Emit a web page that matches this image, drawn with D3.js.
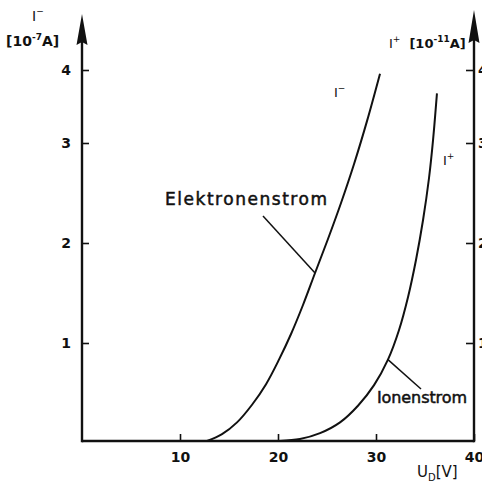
<!DOCTYPE html>
<html>
<head>
<meta charset="utf-8">
<script src="https://cdn.jsdelivr.net/npm/d3@7/dist/d3.min.js"></script>
<style>
  html, body { margin: 0; padding: 0; background: #fff; }
  svg { display: block; overflow: hidden; }
  text { font-family: "DejaVu Sans", sans-serif; fill: #111; }
</style>
</head>
<body>
<svg id="chart" width="482" height="483"></svg>
<script>
// Discharge voltage U_D in volts and the two currents
// (electron current I- in 1e-7 A, ion current I+ in 1e-11 A)
const electronU = [12.76, 14.29, 15.82, 17.35, 18.78, 20.10, 21.33, 22.55, 23.78, 25.10, 26.43, 27.76, 29.08, 30.41];
const electronI = [0.00, 0.07, 0.19, 0.37, 0.58, 0.83, 1.09, 1.38, 1.70, 2.04, 2.40, 2.79, 3.30, 3.95];
const ionU = [20.2, 22.24, 24.29, 26.33, 28.16, 29.8, 31.22, 32.35, 33.27, 34.08, 34.8, 35.41, 35.82, 36.22];
const ionI = [0.00, 0.02, 0.08, 0.19, 0.36, 0.57, 0.83, 1.13, 1.46, 1.83, 2.23, 2.65, 3.04, 3.68];

const xTicks = [10, 20, 30, 40];
const yTicks = [1, 2, 3, 4];

const svg = d3.select("#chart");

const x = d3.scaleLinear().domain([0, 40]).range([82, 474]);
// the printed current axis is not evenly divided above 3
const y = d3.scaleLinear().domain([0, 1, 2, 3, 4]).range([441, 343, 243, 143, 70]);

const ink = "#111";
const fmt = d3.format("d");

// bottom axis
const gx = svg.append("g").attr("transform", `translate(0,${y(0)})`)
  .call(d3.axisBottom(x).tickValues(xTicks).tickFormat(fmt).tickSizeInner(-7).tickSizeOuter(0).tickPadding(15));
// left axis
const gl = svg.append("g").attr("transform", `translate(${x(0)},0)`)
  .call(d3.axisLeft(y).tickValues(yTicks).tickFormat(fmt).tickSizeInner(-7).tickSizeOuter(0).tickPadding(11));
// right axis
const gr = svg.append("g").attr("transform", `translate(${x(40)},0)`)
  .call(d3.axisRight(y).tickValues(yTicks).tickFormat(fmt).tickSizeInner(-8).tickSizeOuter(0).tickPadding(4));

[gx, gl, gr].forEach(g => {
  g.select(".domain").remove();
  g.selectAll(".tick line").attr("stroke", ink).attr("stroke-width", 1.6);
  g.selectAll(".tick text").attr("font-size", 14).attr("font-family", "DejaVu Sans, sans-serif")
    .attr("fill", ink).attr("font-weight", "bold");
});
gx.selectAll(".tick text").attr("dy", "0.45em");

// axis lines
svg.append("line").attr("x1", x(0)).attr("x2", x(40)).attr("y1", y(0)).attr("y2", y(0))
  .attr("stroke", ink).attr("stroke-width", 2.6);
svg.append("line").attr("x1", x(0)).attr("x2", x(0)).attr("y1", y(0) + 1.3).attr("y2", 30)
  .attr("stroke", ink).attr("stroke-width", 2.4);
svg.append("line").attr("x1", x(40)).attr("x2", x(40)).attr("y1", y(0) + 1.3).attr("y2", 26)
  .attr("stroke", ink).attr("stroke-width", 2.4);

// arrow heads
function arrow(cx, tip, len, half) {
  svg.append("path")
    .attr("d", `M${cx},${tip} L${cx + half},${tip + len} L${cx},${tip + len - 3} L${cx - half},${tip + len} Z`)
    .attr("fill", ink);
}
arrow(x(0), 14, 31, 5.5);
arrow(x(40), 10, 33, 5.5);

// current curves
const line = d3.line().x(d => x(d[0])).y(d => y(d[1])).curve(d3.curveCatmullRom.alpha(0.5));
svg.append("path").datum(d3.zip(electronU, electronI)).attr("d", line)
  .attr("fill", "none").attr("stroke", ink).attr("stroke-width", 2);
svg.append("path").datum(d3.zip(ionU, ionI)).attr("d", line)
  .attr("fill", "none").attr("stroke", ink).attr("stroke-width", 2);

// axis titles
const tl = svg.append("text").attr("x", 32).attr("y", 21).attr("font-size", 14);
tl.append("tspan").text("I");
tl.append("tspan").attr("font-size", 9).attr("dy", -7).text("−");

const tl2 = svg.append("text").attr("x", 6).attr("y", 46).attr("font-size", 14)
  .attr("font-weight", "bold");
tl2.append("tspan").text("[10");
tl2.append("tspan").attr("font-size", 9).attr("dy", -6).text("-7");
tl2.append("tspan").attr("dy", 6).text("A]");

const tr = svg.append("text").attr("x", 389).attr("y", 48).attr("font-size", 13);
tr.append("tspan").text("I");
tr.append("tspan").attr("font-size", 9).attr("dy", -6).text("+");
tr.append("tspan").attr("dy", 6).attr("dx", 9).attr("font-weight", "bold").text("[10");
tr.append("tspan").attr("font-size", 9).attr("font-weight", "bold").attr("dy", -6).text("-11");
tr.append("tspan").attr("dy", 6).attr("font-weight", "bold").text("A]");

const tx = svg.append("text").attr("x", 417).attr("y", 477).attr("font-size", 15);
tx.append("tspan").text("U");
tx.append("tspan").attr("font-size", 10).attr("dy", 4).text("D");
tx.append("tspan").attr("dy", -4).text("[V]");

// curve labels
const c1 = svg.append("text").attr("x", 334).attr("y", 97).attr("font-size", 13);
c1.append("tspan").text("I");
c1.append("tspan").attr("font-size", 9).attr("dy", -6).text("−");
const c2 = svg.append("text").attr("x", 443).attr("y", 165).attr("font-size", 13);
c2.append("tspan").text("I");
c2.append("tspan").attr("font-size", 9).attr("dy", -6).text("+");

// named annotations with leader lines
svg.append("text").attr("x", 165).attr("y", 205).attr("font-size", 17)
  .attr("stroke", ink).attr("stroke-width", 0.5)
  .attr("textLength", 162).attr("lengthAdjust", "spacing").text("Elektronenstrom");
svg.append("line").attr("x1", 263).attr("y1", 216).attr("x2", x(23.78)).attr("y2", y(1.70))
  .attr("stroke", ink).attr("stroke-width", 1.5);

svg.append("text").attr("x", 377).attr("y", 403).attr("font-size", 16)
  .attr("stroke", ink).attr("stroke-width", 0.5)
  .attr("textLength", 90).attr("lengthAdjust", "spacing").text("Ionenstrom");
svg.append("line").attr("x1", 421).attr("y1", 389).attr("x2", x(31.22)).attr("y2", y(0.83))
  .attr("stroke", ink).attr("stroke-width", 1.5);
</script>
</body>
</html>
